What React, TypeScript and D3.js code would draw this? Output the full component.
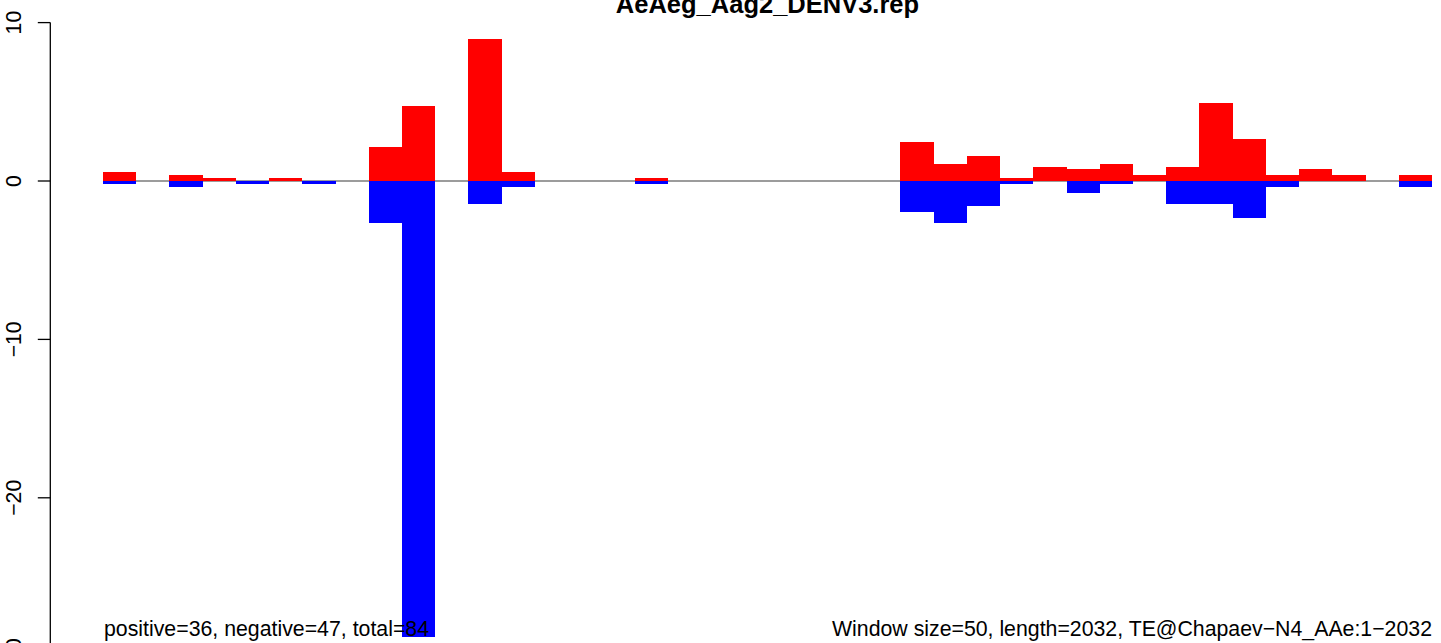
import { useEffect, useRef } from "react"
import * as d3 from "d3"

// window values (40 windows of 50 nt)
const positive = [
  0.57, 0, 0.38, 0.19, 0, 0.19, 0, 0, 2.15, 4.73,
  0, 8.96, 0.57, 0, 0, 0, 0.19, 0, 0, 0,
  0, 0, 0, 0, 2.46, 1.07, 1.58, 0.19, 0.88, 0.76,
  1.07, 0.38, 0.88, 4.92, 2.65, 0.38, 0.76, 0.38, 0, 0.38,
]
const negative = [
  0.19, 0, 0.38, 0, 0.19, 0, 0.19, 0, 2.65, 28.77,
  0, 1.43, 0.38, 0, 0, 0, 0.19, 0, 0, 0,
  0, 0, 0, 0, 1.96, 2.63, 1.58, 0.19, 0, 0.76,
  0.19, 0, 1.43, 1.43, 2.31, 0.38, 0, 0, 0, 0.38,
]
const yTicks = [10, 0, -10, -20, -30]
const title = "AeAeg_Aag2_DENV3.rep"
const leftNote = "positive=36, negative=47, total=84"
const rightNote = "Window size=50, length=2032, TE@Chapaev\u2212N4_AAe:1\u22122032"

const App = () => {
  const svgRef = useRef<SVGSVGElement>(null)

  useEffect(() => {
    document.body.style.margin = "0"
    const svg = d3.select(svgRef.current)
    svg.selectAll("*").remove()

    const width = 1441
    const height = 643
    const font = "'Liberation Sans', Arial, Helvetica, sans-serif"
    svg.attr("width", width).attr("height", height).style("display", "block")

    const n = positive.length
    const x = d3.scaleLinear().domain([0, n]).range([103, 1432])
    const y = d3.scaleLinear().domain([-30, 10]).range([656.2, 22.6])
    const bw = x(1) - x(0)

    // zero line
    svg.append("line")
      .attr("x1", x(0)).attr("x2", x(n))
      .attr("y1", y(0)).attr("y2", y(0))
      .attr("stroke", "#9c9c9c").attr("stroke-width", 1.8)

    const idx = d3.range(n)

    svg.selectAll(".pos")
      .data(idx.filter((i) => positive[i] > 0))
      .enter()
      .append("rect")
      .attr("x", (i) => x(i))
      .attr("width", bw)
      .attr("y", (i) => y(positive[i]))
      .attr("height", (i) => y(0) - y(positive[i]))
      .attr("fill", "#ff0000")
      .attr("shape-rendering", "crispEdges")

    svg.selectAll(".neg")
      .data(idx.filter((i) => negative[i] > 0))
      .enter()
      .append("rect")
      .attr("x", (i) => x(i))
      .attr("width", bw)
      .attr("y", y(0))
      .attr("height", (i) => y(-negative[i]) - y(0))
      .attr("fill", "#0000ff")
      .attr("shape-rendering", "crispEdges")

    // y axis, R style: line spans the ticks, labels rotated
    const axisX = 50.3
    const ax = svg.append("g")
    ax.append("line")
      .attr("x1", axisX).attr("x2", axisX)
      .attr("y1", y(10)).attr("y2", y(-30))
      .attr("stroke", "#000").attr("stroke-width", 1.3)
    ax.selectAll(".tick")
      .data(yTicks)
      .enter()
      .append("line")
      .attr("x1", axisX - 12.5).attr("x2", axisX)
      .attr("y1", (d) => y(d)).attr("y2", (d) => y(d))
      .attr("stroke", "#000").attr("stroke-width", 1.3)
    ax.selectAll(".lbl")
      .data(yTicks)
      .enter()
      .append("text")
      .attr("transform", (d) => `translate(20.5,${y(d)}) rotate(-90)`)
      .attr("text-anchor", "middle")
      .attr("font-family", font)
      .attr("font-size", 21.2)
      .text((d) => (d < 0 ? "\u2212" + Math.abs(d) : String(d)))

    svg.append("text")
      .attr("x", 767.5).attr("y", 13)
      .attr("text-anchor", "middle")
      .attr("font-family", font)
      .attr("font-weight", "bold")
      .attr("font-size", 25.5)
      .text(title)

    svg.append("text")
      .attr("x", 104).attr("y", 636)
      .attr("font-family", font)
      .attr("font-size", 21.3)
      .text(leftNote)

    svg.append("text")
      .attr("x", 1432).attr("y", 636)
      .attr("text-anchor", "end")
      .attr("font-family", font)
      .attr("font-size", 21.3)
      .attr("textLength", 600)
      .attr("lengthAdjust", "spacing")
      .text(rightNote)
  }, [])

  return <svg ref={svgRef}></svg>
}

export default App
